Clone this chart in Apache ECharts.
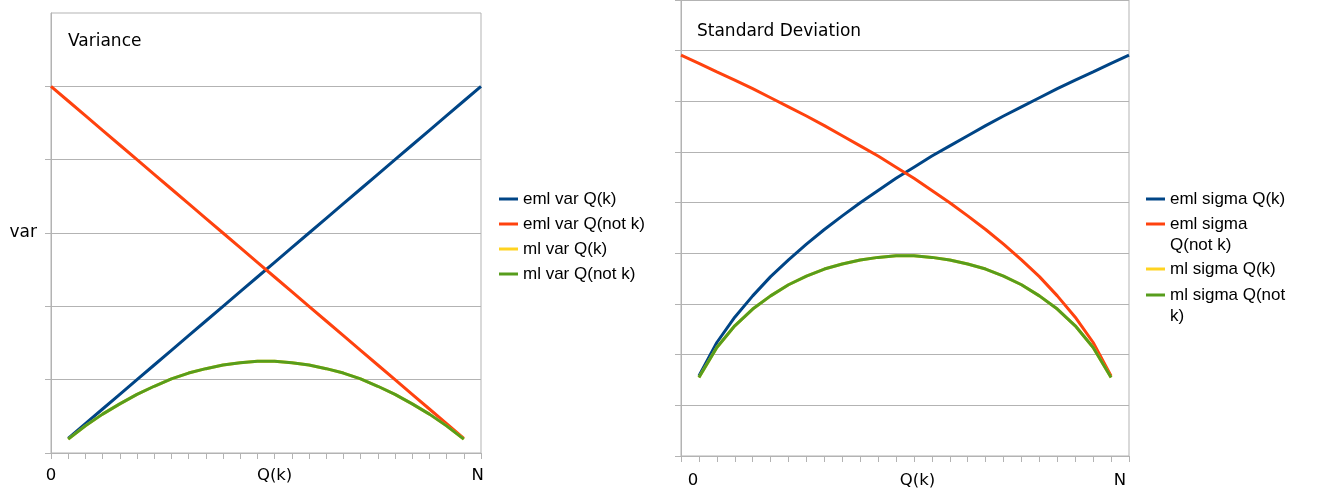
<!DOCTYPE html>
<html>
<head>
<meta charset="utf-8">
<script src="https://cdn.jsdelivr.net/npm/echarts@6/dist/echarts.min.js"></script>
<style>
html,body{margin:0;padding:0;background:#fff;}
#c{width:1319px;height:494px;}
</style>
</head>
<body>
<div id="c"></div>
<script>
// x positions 0..25 (0 .. N)
var xValues = [0,1,2,3,4,5,6,7,8,9,10,11,12,13,14,15,16,17,18,19,20,21,22,23,24,25];

// Variance chart
var varEmlK    = [null,0.2,0.4,0.6,0.8,1.0,1.2,1.4,1.6,1.8,2.0,2.2,2.4,2.6,2.8,3.0,3.2,3.4,3.6,3.8,4.0,4.2,4.4,4.6,4.8,5.0];
var varEmlNotK = [5.0,4.8,4.6,4.4,4.2,4.0,3.8,3.6,3.4,3.2,3.0,2.8,2.6,2.4,2.2,2.0,1.8,1.6,1.4,1.2,1.0,0.8,0.6,0.4,0.2,null];
var varMlK     = [null,0.19,0.37,0.53,0.67,0.80,0.91,1.01,1.09,1.15,1.20,1.23,1.25,1.25,1.23,1.20,1.15,1.09,1.01,0.91,0.80,0.67,0.53,0.37,0.19,null];
var varMlNotK  = [null,0.19,0.37,0.53,0.67,0.80,0.91,1.01,1.09,1.15,1.20,1.23,1.25,1.25,1.23,1.20,1.15,1.09,1.01,0.91,0.80,0.67,0.53,0.37,0.19,null];

// Standard deviation chart
var sdEmlK    = [null,1.58,2.24,2.74,3.16,3.54,3.87,4.18,4.47,4.74,5.00,5.24,5.48,5.70,5.92,6.12,6.32,6.52,6.71,6.89,7.07,7.25,7.42,7.58,7.75,7.91];
var sdEmlNotK = [7.91,7.75,7.58,7.42,7.25,7.07,6.89,6.71,6.52,6.32,6.12,5.92,5.70,5.48,5.24,5.00,4.74,4.47,4.18,3.87,3.54,3.16,2.74,2.24,1.58,null];
var sdMlK     = [null,1.55,2.14,2.57,2.90,3.16,3.38,3.55,3.69,3.79,3.87,3.92,3.95,3.95,3.92,3.87,3.79,3.69,3.55,3.38,3.16,2.90,2.57,2.14,1.55,null];
var sdMlNotK  = [null,1.55,2.14,2.57,2.90,3.16,3.38,3.55,3.69,3.79,3.87,3.92,3.95,3.95,3.92,3.87,3.79,3.69,3.55,3.38,3.16,2.90,2.57,2.14,1.55,null];

// tick labels
var xLabelText   = ['0','Q(k)','N'];
var xLabelAtLeft = [0, 13, 24.8];
var xLabelAtRight= [0.67, 13.2, 24.5];

var namesVar = ['eml var Q(k)','eml var Q(not k)','ml var Q(k)','ml var Q(not k)'];
var namesSd  = ['eml sigma Q(k)','eml sigma Q(not k)','ml sigma Q(k)','ml sigma Q(not k)'];
var legendSd = ['eml sigma Q(k)','\neml sigma\nQ(not k)','ml sigma Q(k)','\nml sigma Q(not\nk)'];
var colors = ['#004586','#ff420e','#ffd320','#579d1c'];

function pairs(arr){
  var out = [];
  for (var i=0;i<xValues.length;i++){ if (arr[i]!==null) out.push([xValues[i], arr[i]]); }
  return out;
}
function labelFor(at){
  return function(v){
    for (var i=0;i<at.length;i++){ if (Math.abs(at[i]-v)<1e-6) return xLabelText[i]; }
    return '';
  };
}
var gray = '#b3b3b3';
var fontD = 'DejaVu Sans';
var fontL = 'Liberation Sans';

function xAxis(gi, at, margin){
  return {
    type:'value', gridIndex:gi, min:0, max:25, interval:1,
    axisLine:{show:true, lineStyle:{color:gray, width:1}},
    axisTick:{show:true, length:6, lineStyle:{color:gray}},
    splitLine:{show:false},
    axisLabel:{show:true, customValues:at, formatter:labelFor(at), margin:margin,
      color:'#000', fontFamily:fontD, fontSize:16.5}
  };
}
function yAxis(gi, max, ticks, name){
  var a = {
    type:'value', gridIndex:gi, min:0, max:max, interval:1,
    axisLine:{show:true, lineStyle:{color:gray, width:1}},
    axisTick:{show:true, length:6, lineStyle:{color:gray}},
    splitLine:{show:true, lineStyle:{color:gray, width:1}},
    axisLabel:{show:false}
  };
  if (ticks) a.axisTick.customValues = ticks;
  if (name){
    a.name = name; a.nameLocation='middle'; a.nameRotate=0; a.nameGap=14;
    a.nameTextStyle = {color:'#000', fontFamily:fontD, fontSize:17};
  }
  return a;
}
function series(names, datas, xi){
  return names.map(function(n,i){
    return {
      name:n, type:'line', xAxisIndex:xi, yAxisIndex:xi, data:pairs(datas[i]),
      showSymbol:false, symbol:'none', lineStyle:{width:3, color:colors[i]},
      itemStyle:{color:colors[i]}, connectNulls:false, animation:false
    };
  });
}
function legend(name, text, left, top){
  return {
    data:[{name:name, icon:'rect'}], left:left, top:top, padding:0, orient:'vertical',
    formatter:function(){ return text; },
    itemWidth:19, itemHeight:3, selectedMode:false,
    textStyle:{color:'#000', fontFamily:fontL, fontSize:17, lineHeight:21}
  };
}

var legends = [
  legend(namesVar[0], namesVar[0], 499, 199-10.5),
  legend(namesVar[1], namesVar[1], 499, 224-10.5),
  legend(namesVar[2], namesVar[2], 499, 249-10.5),
  legend(namesVar[3], namesVar[3], 499, 274-10.5),
  legend(namesSd[0], legendSd[0], 1146, 199-10.5),
  legend(namesSd[1], legendSd[1], 1146, 224-31.5),
  legend(namesSd[2], legendSd[2], 1146, 269-10.5),
  legend(namesSd[3], legendSd[3], 1146, 295-31.5)
];

var chart = echarts.init(document.getElementById('c'), null, {renderer:'canvas'});
chart.setOption({
  backgroundColor:'#fff',
  animation:false,
  title:[
    {text:'Variance', left:68, top:33.5, padding:0, textStyle:{color:'#000', fontFamily:fontD, fontSize:17, fontWeight:'normal'}},
    {text:'Standard Deviation', left:697, top:23.5, padding:0, textStyle:{color:'#000', fontFamily:fontD, fontSize:17, fontWeight:'normal'}}
  ],
  legend: legends,
  grid:[
    {left:51, top:13, width:430, height:440, show:true, borderColor:gray, borderWidth:1, backgroundColor:'transparent'},
    {left:681, top:-1, width:448, height:457, show:true, borderColor:gray, borderWidth:1, backgroundColor:'transparent'}
  ],
  xAxis:[ xAxis(0, xLabelAtLeft, 14), xAxis(1, xLabelAtRight, 16) ],
  yAxis:[ yAxis(0, 6, [0,1,2,3,4,5], 'var'), yAxis(1, 9, null, null) ],
  series: series(namesVar, [varEmlK, varEmlNotK, varMlK, varMlNotK], 0)
    .concat(series(namesSd, [sdEmlK, sdEmlNotK, sdMlK, sdMlNotK], 1))
});
</script>
</body>
</html>
